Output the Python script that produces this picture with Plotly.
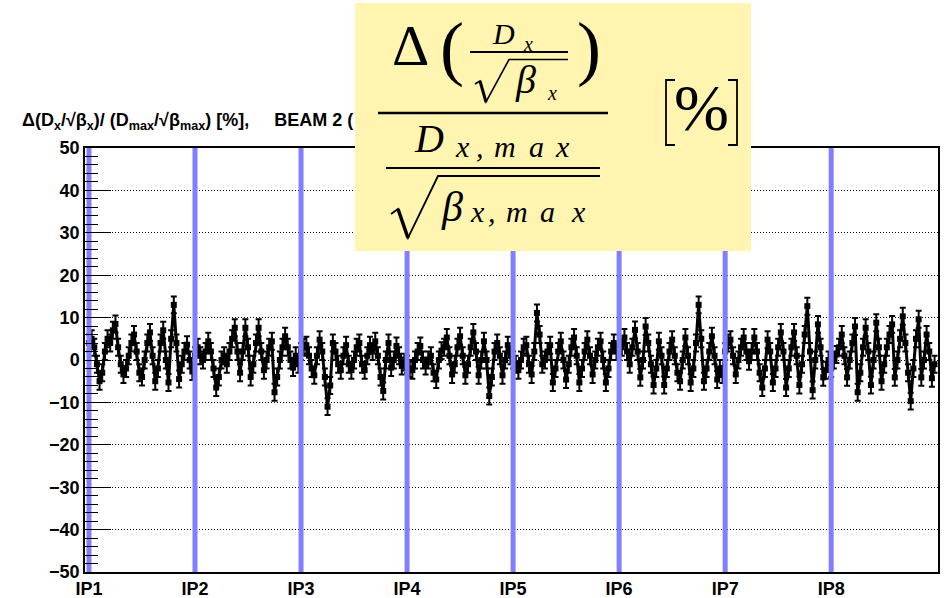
import plotly.graph_objects as go

# ---------------- data ----------------
# relative dispersion beating per BPM, 40 BPMs per octant, IP1 -> IP8
OCT1 = [4, 5, 3, -1, -5, -3, 2, 5, 4, 7, 8.5, 3, -1, -3.4, -2, 1, 4, 6, 2, -3,
        -4, 0, 4, 6.5, 1, -5, -2, 4, 7, 0, -5.3, 5, 13, 4, -4.5, -1, 2, 3.6, 0, -2.7]
OCT2 = [1, 3, 1, 0, 2, 4.4, 2, -2, -6.5, -4, 0, 1, -1, 2, 5, 7.6, 2, -3, 2, 7.6,
        3, -4, -1, 4, 7.6, 2, -2.4, 0, 3, 4.4, -7.6, -4, 0, 3, 5.6, 3, 0, -1.8, 1, -1]
OCT3 = [2, 3, 3.5, 1, -2, -3.6, 1, 4.8, 2, -4, -11, -6, 4, 2, -1, -2.4, 1, 3.5, -1, -2.4,
        0, 3, 4, -1, -2.4, 1, 3.5, 2, 4.4, 1, -4, -7.3, 0, 4, -1.8, 0, 3.3, 1, -1.4, -0.5]
OCT4 = [-1, -2, -2.4, 0, 2, 3.3, 0, -1.4, 0, 1, -3, -4.6, 0, 2.2, 3, 5.3, 1, -3.4, -1, 3,
        5.6, 1, -3.6, -1, 3, 6.5, 2, -3.6, 0, 4.4, 0, -8.5, -4, 2, 4, 1, -3.6, 0, 3.5, 1]
OCT5 = [0, -1, -2.4, 0, 3, 3.5, -1, -3.4, 2, 11.1, 6, -1, 0, 2, 3.5, -5.3, -2, 2, 4.4, 0,
        -4.6, -1, 3, 5.3, 1, -5.3, -2, 2, 4.8, 1, -3.4, 0, 3, 4.4, 0, -5.3, -2, 2, 4, 2]
OCT6 = [2, 3, 5.3, 2, -1, 3, 7.1, 2, -4.1, 0, 7.9, 4, -1, -5.9, -2, 4.4, 1, -5.9, -2, 2,
        4.8, 1, -3, -5, 0, 5.3, 1, -5.3, -2, 4, 13, 5, -5, -2, 2, 5.6, 1, -4.6, -2, -3.4]
OCT7 = [2, 4, 4.8, 1, -3.4, 0, 3, 5.3, 2, -0.3, 2, 5.3, 2, -3, -6.5, -2, 4.8, 2, -5.3, -2,
        3, 6.5, 2, -6.5, -2, 3, 6.5, 1, -5.9, -1, 6, 12.7, 2, -7.1, 0, 8.4, 3, -4.1, -2.4, 0]
OCT8 = [-2, 0, 1.3, 3, 6, 1, -4.1, 0, 4, 7.9, -7.6, -3, 3, 7.6, 2, -5.9, 0, 8.8, 3, -5,
        -1, 3, 6, 8.4, -4.1, 0, 5, 10.3, 4, -3, -9.7, -2, 5, 9.6, -4.1, 0, 6, 2, -4.3, -1]
ERROR_PCT = 2.0

IP_INDEX = [0, 40, 80, 120, 160, 200, 240, 280]
IP_LABELS = ["IP1", "IP2", "IP3", "IP4", "IP5", "IP6", "IP7", "IP8"]
Y_RANGE = [-50, 50]
X_RANGE = [-1.5, 320.3]

VALUES = OCT1 + OCT2 + OCT3 + OCT4 + OCT5 + OCT6 + OCT7 + OCT8
BPM = list(range(len(VALUES)))

# ---------------- layout helpers ----------------
W, H = 947, 598
ML, MR, MT, MB = 85, 9, 148, 26
PW, PH = W - ML - MR, H - MT - MB


def fx(px):
    return (px - ML) / PW


def fy(py):
    return (MT + PH - py) / PH


def txt(s, cx, cy, size, italic=False, family="Liberation Serif"):
    return dict(text=s, x=fx(cx), y=fy(cy), xref="paper", yref="paper",
                xanchor="center", yanchor="middle", showarrow=False,
                font=dict(family=family, size=size, color="black",
                          style="italic" if italic else "normal"))


def seg(x0, y0, x1, y1, w):
    return dict(type="line", xref="paper", yref="paper", layer="above",
                x0=fx(x0), y0=fy(y0), x1=fx(x1), y1=fy(y1),
                line=dict(color="black", width=w))


def path(pts, w):
    d = "M " + " L ".join(f"{fx(a):.5f},{fy(b):.5f}" for a, b in pts)
    return dict(type="path", xref="paper", yref="paper", layer="above", path=d,
                line=dict(color="black", width=w))


fig = go.Figure()

# data points with error bars
fig.add_trace(go.Scatter(
    x=BPM, y=VALUES, mode="lines+markers",
    line=dict(color="black", width=3),
    marker=dict(symbol="square", size=6, color="black"),
    error_y=dict(type="constant", value=ERROR_PCT, color="black", thickness=2, width=3),
    showlegend=False, hoverinfo="skip"))

# IP marker lines
ipx, ipy = [], []
for ip in IP_INDEX:
    ipx += [ip, ip, None]
    ipy += [Y_RANGE[0], Y_RANGE[1], None]
fig.add_trace(go.Scatter(x=ipx, y=ipy, mode="lines",
                         line=dict(color="rgb(128,128,255)", width=5),
                         showlegend=False, hoverinfo="skip"))

shapes = [dict(type="rect", xref="paper", yref="paper", layer="above",
               x0=fx(355), x1=fx(751), y0=fy(3), y1=fy(251),
               fillcolor="rgb(255,245,177)", line=dict(width=0))]
# fraction bars
shapes += [seg(470, 52, 568, 52, 2), seg(378, 113, 608, 113, 2.5), seg(386, 168, 600, 168, 2)]
# radicals
shapes += [path([(475, 84), (480, 81), (486, 102), (509, 59.5), (568, 59.5)], 1.6),
           seg(480, 81, 486, 102, 3),
           path([(391, 214), (398, 209), (408, 238), (438, 176), (600, 176)], 1.8),
           seg(398, 209, 408, 238, 3.5)]
# square brackets around %
shapes += [path([(675, 80), (666, 80), (666, 145), (675, 145)], 1.8),
           path([(728, 80), (737, 80), (737, 145), (728, 145)], 1.8)]

annotations = [
    dict(text="<b>Δ(D<sub>x</sub>/√β<sub>x</sub>)/ (D<sub>max</sub>/√β<sub>max</sub>) [%],"
              "&nbsp;&nbsp;&nbsp;&nbsp;&nbsp;BEAM 2 (</b>",
         x=fx(20), y=fy(121), xref="paper", yref="paper", xanchor="left", yanchor="middle",
         showarrow=False, font=dict(family="Liberation Sans", size=18, color="black")),
    txt("Δ", 410, 45.5, 58),
    txt("(", 452, 47.5, 72),
    txt(")", 589, 47.5, 72),
    txt("D", 503, 33, 30, True),
    txt("x", 528, 43.5, 20, True),
    txt("β", 525, 80, 40, True),
    txt("x", 552, 93.5, 20, True),
    txt("D", 429, 138.5, 40, True),
    txt("x", 462, 146.8, 30, True),
    txt(",", 480, 146.8, 30, True),
    txt("m", 505, 146.8, 30, True),
    txt("a", 536, 146.8, 30, True),
    txt("x", 562, 146.8, 30, True),
    txt("β", 452, 206.7, 42, True),
    txt("x", 477, 211.8, 30, True),
    txt(",", 492, 211.8, 30, True),
    txt("m", 517, 211.8, 30, True),
    txt("a", 547, 211.8, 30, True),
    txt("x", 578, 211.8, 30, True),
    txt("%", 701, 107.5, 66),
]

fig.update_layout(
    width=W, height=H,
    margin=dict(l=ML, r=MR, t=MT, b=MB, pad=0),
    paper_bgcolor="white", plot_bgcolor="white",
    shapes=shapes, annotations=annotations,
    font=dict(family="Liberation Sans", color="black"),
)
fig.update_xaxes(range=X_RANGE, tickmode="array", tickvals=IP_INDEX, ticktext=IP_LABELS,
                 ticks="", showgrid=False, zeroline=False, automargin=False,
                 showline=True, linecolor="black", linewidth=1.5, mirror=True,
                 tickfont=dict(family="Liberation Sans", size=18, color="black", weight="bold"))
fig.update_yaxes(range=Y_RANGE, dtick=10, ticks="inside", ticklen=26, tickcolor="black", tickwidth=1,
                 minor=dict(dtick=2, ticks="inside", ticklen=13, tickcolor="black", showgrid=False),
                 showgrid=True, gridcolor="black", gridwidth=1, griddash="1px,2px",
                 zeroline=False, automargin=False,
                 showline=True, linecolor="black", linewidth=1.5, mirror=True,
                 tickfont=dict(family="Liberation Sans", size=18, color="black", weight="bold"))

fig.write_html("out.html", config={"displayModeBar": False},
               post_script="document.body.style.margin='0px';")
